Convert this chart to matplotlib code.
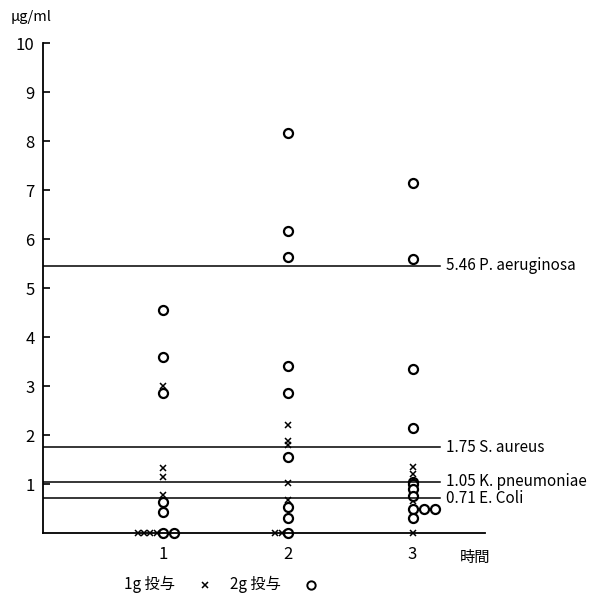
import matplotlib.pyplot as plt
from matplotlib.lines import Line2D
from collections import Counter

plt.rcParams['font.family'] = ['Noto Sans CJK JP', 'DejaVu Sans']

# 時間ごとの血中濃度 (μg/ml)
hours = [1, 2, 3]
dose_1g = [
    [3.0, 1.33, 1.14, 0.78, 0, 0, 0, 0],
    [2.2, 1.89, 1.79, 1.02, 0.67, 0, 0],
    [1.35, 1.2, 0.65, 0],
]
dose_2g = [
    [4.55, 3.6, 2.85, 0.63, 0.43, 0, 0],
    [8.17, 6.17, 5.64, 3.42, 2.87, 1.55, 0.53, 0.31, 0],
    [7.15, 5.6, 3.35, 2.15, 1.05, 1.0, 0.9, 0.75, 0.5, 0.5, 0.5, 0.3],
]

# MIC
mic_values = [5.46, 1.75, 1.05, 0.71]
mic_names = ['P. aeruginosa', 'S. aureus', 'K. pneumoniae', 'E. Coli']


def spread(xc, vals, step, first):
    # 同じ値の点は横にずらす
    seen = Counter()
    xs = []
    total = Counter(vals)
    for v in vals:
        if total[v] > 1:
            xs.append(xc + first + step * seen[v])
        else:
            xs.append(xc)
        seen[v] += 1
    return xs


fig = plt.figure(figsize=(5.9, 6.01), dpi=100)
ax = fig.add_axes([0.073, 0.113, 0.749, 0.815])

for h, v1, v2 in zip(hours, dose_1g, dose_2g):
    ax.plot(spread(h, v1, -0.05, -0.05), v1, linestyle='none', marker='x',
            color='black', markersize=4.5, markeredgewidth=1.1, clip_on=False)
    ax.plot(spread(h, v2, 0.09, 0.0), v2, linestyle='none', marker='o',
            markerfacecolor='white', markeredgecolor='black', markersize=6.5,
            markeredgewidth=1.6, clip_on=False)

for v, name in zip(mic_values, mic_names):
    ax.plot([0.04, 3.22], [v, v], color='black', linewidth=1.1)
    ax.text(3.27, v, f'{v:.2f} {name}', fontsize=11, va='center', ha='left')

ax.set_xlim(0.04, 3.58)
ax.set_ylim(0, 10)
ax.set_yticks(range(1, 11))
ax.set_xticks(hours)
ax.tick_params(axis='y', direction='in', length=5, width=1.2, labelsize=12, pad=6)
ax.tick_params(axis='x', length=0, labelsize=12, pad=9)
ax.spines['top'].set_visible(False)
ax.spines['right'].set_visible(False)
ax.spines['left'].set_linewidth(1.3)
ax.spines['bottom'].set_linewidth(1.3)

ax.text(3.38, -0.33, '時間', fontsize=11, va='top', ha='left')
fig.text(0.018, 0.972, 'μg/ml', fontsize=10.5, va='center', ha='left')

# 凡例
fig.text(0.21, 0.028, '1g 投与', fontsize=11, va='center', ha='left')
fig.add_artist(Line2D([0.347], [0.026], marker='x', color='black', markersize=4.5,
                      markeredgewidth=1.1, linestyle='none'))
fig.text(0.39, 0.028, '2g 投与', fontsize=11, va='center', ha='left')
fig.add_artist(Line2D([0.527], [0.026], marker='o', markerfacecolor='white',
                      markeredgecolor='black', markersize=6, markeredgewidth=1.4,
                      linestyle='none'))

plt.savefig('out.png', dpi=100)
